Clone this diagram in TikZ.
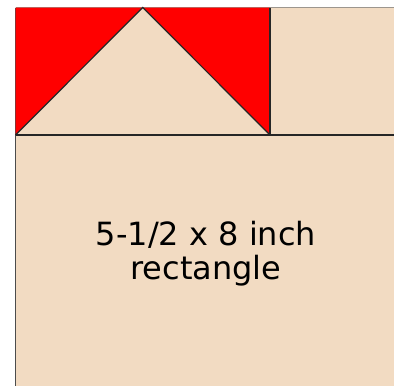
\documentclass[tikz,border=0pt]{standalone}
\usepackage{fontspec}
\setmainfont{DejaVu Sans}
\definecolor{fabric}{HTML}{F2DBC2}
\definecolor{edgegray}{HTML}{9C968E}

\begin{document}
\begin{tikzpicture}[x=1pt, y=-1pt]
    \useasboundingbox (0,0) rectangle (394,386);
    % Below is the fabric background.
        \fill[fabric] (15.5,7.5) rectangle (394,386);
        \draw[edgegray, line width=1.5pt] (15.5,7.5) -- (394,7.5);
        \draw[black!70, line width=1.2pt] (15.5,7.5) -- (15.5,386);
    % This draws the flying geese unit.
        \coordinate (tl) at (15.5,7.5);
        \coordinate (apex) at (142.75,7.5);
        \coordinate (tr) at (270,7.5);
        \coordinate (bl) at (15.5,135);
        \coordinate (br) at (270,135);
        \fill[red] (tl) -- (apex) -- (bl) -- cycle;
        \fill[red] (apex) -- (tr) -- (br) -- cycle;
        \draw[black!85, line width=1.2pt] (bl) -- (apex) -- (br);
        \draw[black!85, line width=1.2pt] (tr) -- (br);
        \draw[black!85, line width=1.2pt] (bl) -- (394,135);
    % Below node is the label.
        \node[align=center, inner sep=0pt, font=\fontsize{32}{34}\selectfont] (lbl) at (206,254) {5-1/2 x 8 inch\\rectangle};
\end{tikzpicture}
\end{document}
